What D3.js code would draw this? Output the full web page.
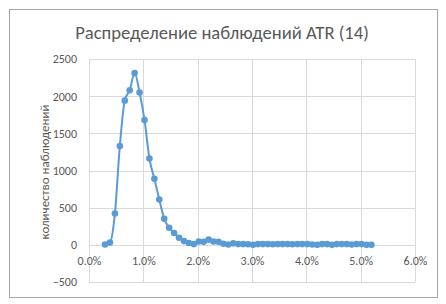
<!DOCTYPE html>
<html><head><meta charset="utf-8">
<script src="https://cdn.jsdelivr.net/npm/d3@7"></script>
<style>body{margin:0;background:#fff}</style>
</head><body>
<svg id="c" width="446" height="304"></svg>
<script>
const title = "Распределение наблюдений ATR (14)";
const yTitle = "количество наблюдений";
const xStart = 0.00295, xStep = 0.000908;
const counts = [5,30,420,1330,1940,2080,2310,2050,1680,1160,890,610,350,230,160,95,50,25,10,45,40,70,45,40,15,5,20,10,10,8,0,10,10,10,8,10,10,10,8,10,10,10,5,0,10,10,0,10,10,10,5,10,10,0,0];
const xTicks = [0,0.01,0.02,0.03,0.04,0.05,0.06];
const yTicks = [-500,0,500,1000,1500,2000,2500];
const data = counts.map((v,i)=>({x:xStart+i*xStep, y:v}));

const svg = d3.select("#c");
const font = "Calibri, Carlito, 'Liberation Sans', sans-serif";
svg.append("rect").attr("x",0).attr("y",0).attr("width",446).attr("height",304).attr("fill","#fff");
svg.append("rect").attr("x",9.5).attr("y",9.5).attr("width",428).attr("height",288).attr("fill","none").attr("stroke","#a6a6a6");

const x = d3.scaleLinear().domain([0,0.06]).range([89,415]);
const y = d3.scaleLinear().domain([-500,2500]).range([282,59]);

const grid = svg.append("g").attr("stroke","#d9d9d9").attr("stroke-width",1);
yTicks.forEach(t=>grid.append("line").attr("x1",89).attr("x2",415).attr("y1",Math.round(y(t))+0.5).attr("y2",Math.round(y(t))+0.5));
xTicks.forEach(t=>grid.append("line").attr("y1",59).attr("y2",282).attr("x1",Math.round(x(t))+0.5).attr("x2",Math.round(x(t))+0.5));

const yAxis = d3.axisLeft(y).tickValues(yTicks).tickSize(0).tickPadding(0).tickFormat(d3.format("d"));
const gy = svg.append("g").attr("transform","translate(77,0)").call(yAxis);
gy.select(".domain").remove();
gy.selectAll("text").attr("font-family",font).attr("font-size",12).attr("fill","#595959");

const xAxis = d3.axisBottom(x).tickValues(xTicks).tickSize(0).tickPadding(0).tickFormat(d3.format(".1%"));
const gx = svg.append("g").attr("transform","translate(0,256)").call(xAxis);
gx.select(".domain").remove();
gx.selectAll("text").attr("font-family",font).attr("font-size",12).attr("fill","#595959");

const line = d3.line().x(d=>x(d.x)).y(d=>y(d.y)).curve(d3.curveMonotoneX);
svg.append("path").datum(data).attr("d",line).attr("fill","none").attr("stroke","#5b9bd5").attr("stroke-width",2);
svg.append("g").selectAll("circle").data(data).join("circle")
  .attr("cx",d=>x(d.x)).attr("cy",d=>y(d.y)).attr("r",3.3).attr("fill","#5b9bd5");

const t = svg.append("text").attr("x",222).attr("y",39).attr("text-anchor","middle")
  .attr("font-family",font).attr("font-size",19).attr("fill","#595959").text(title);
const tw = t.node().getComputedTextLength();
t.attr("font-size",19*294/tw);

const yt = svg.append("text").attr("transform","translate(49,172) rotate(-90)").attr("text-anchor","middle")
  .attr("font-family",font).attr("font-size",13).attr("fill","#595959").text(yTitle);
const yw = yt.node().getComputedTextLength();
yt.attr("font-size",13*135/yw);
</script>
</body></html>
